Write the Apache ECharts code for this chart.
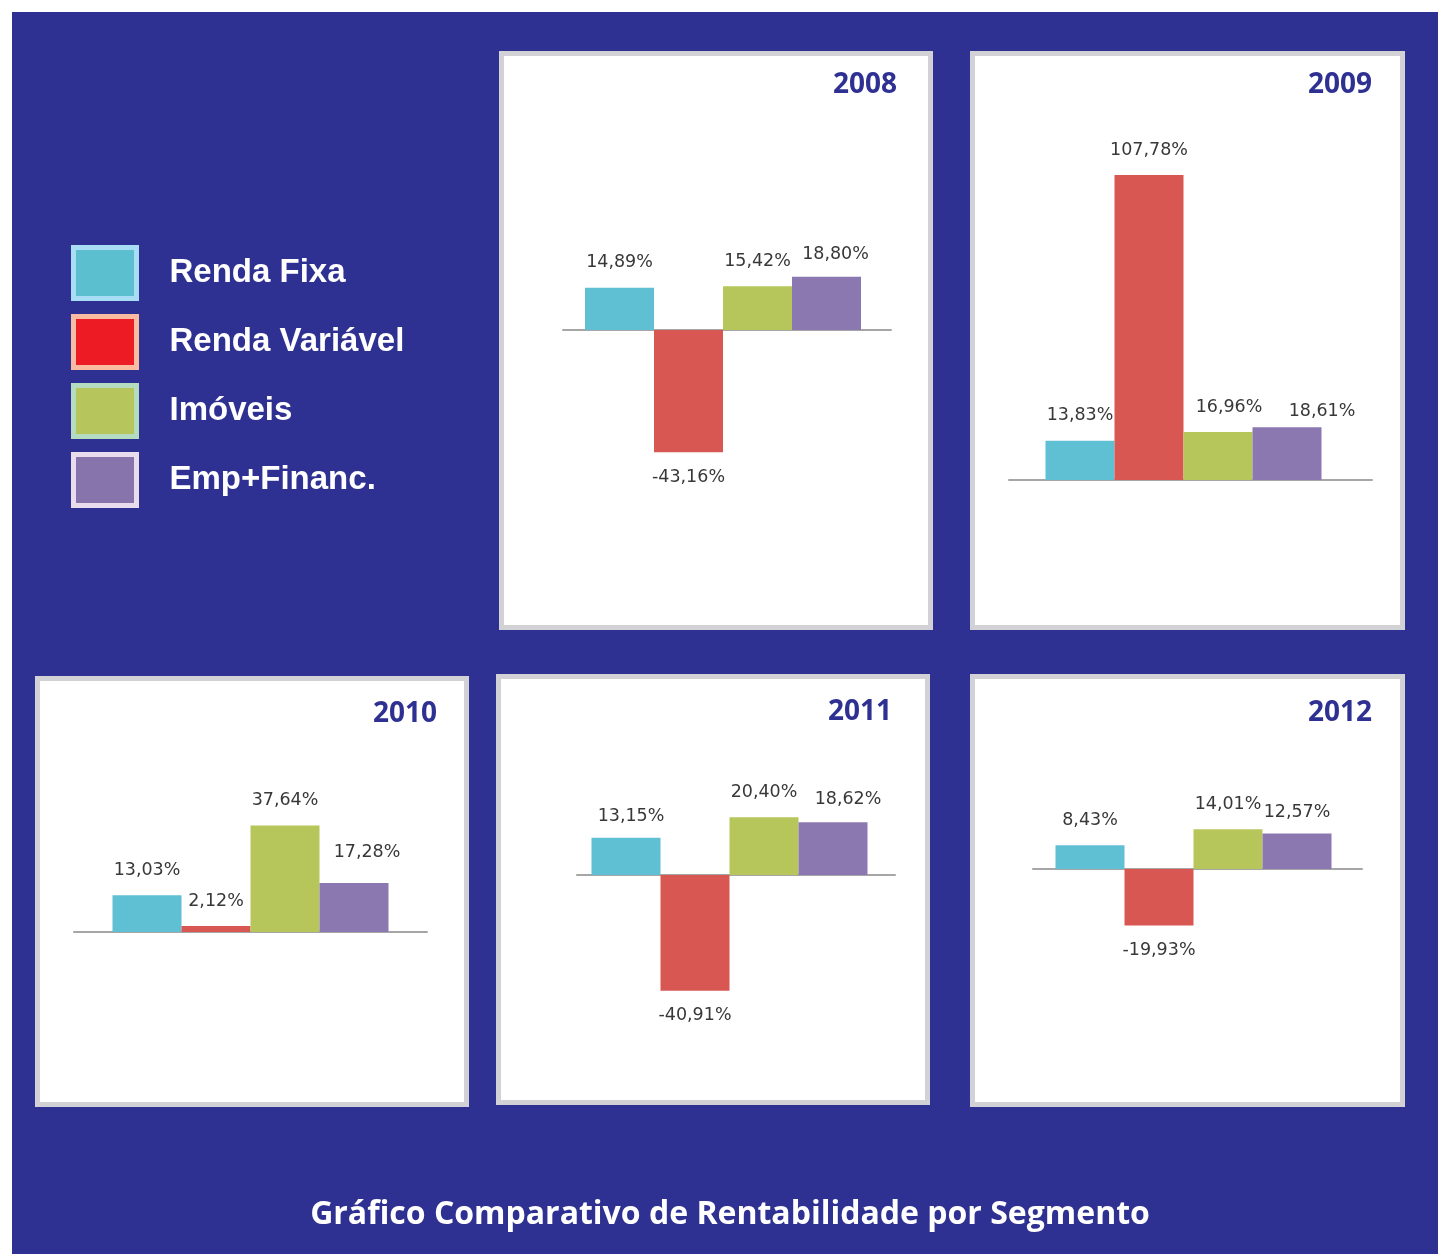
<!DOCTYPE html>
<html>
<head>
<meta charset="utf-8">
<script src="https://cdn.jsdelivr.net/npm/echarts@6/dist/echarts.min.js"></script>
<style>
  html, body { margin: 0; padding: 0; background: #fff; }
  #chart { width: 1438px; height: 1254px; }
</style>
</head>
<body>
<div id="chart"></div>
<script>
// data
const years = ['2008', '2009', '2010', '2011', '2012'];
const segments = ['Renda Fixa', 'Renda Variável', 'Imóveis', 'Emp+Financ.'];
const rendaFixa = [14.89, 13.83, 13.03, 13.15, 8.43];
const rendaVariavel = [-43.16, 107.78, 2.12, -40.91, -19.93];
const imoveis = [15.42, 16.96, 37.64, 20.40, 14.01];
const empFinanc = [18.80, 18.61, 17.28, 18.62, 12.57];
const segmentValues = [rendaFixa, rendaVariavel, imoveis, empFinanc];
const chartTitle = 'Gráfico Comparativo de Rentabilidade por Segmento';

// colours
const NAVY = '#2e3192';
const barColors = ['#5fbfd3', '#d95752', '#b7c65b', '#8c78b0'];
const legendFill = ['#5bbfd0', '#ed1c24', '#b7c55d', '#8774ad'];
const legendEdge = ['#a9ddf6', '#f9bca3', '#b3dcc1', '#e9dcec'];

// every panel uses the same vertical scale, only the zero line moves
const PX_PER_PCT = 2.83;
const Y_MIN = -50, Y_MAX = 110;

// panel frames, axis span, zero line and how far the bar group sits left of centre (page pixels)
const panels = [
  { box: [499, 51, 434, 579], axis: [563, 891], zero: 330, shift: 4, titleRight: 897, titleMid: 85 },
  { box: [970, 51, 435, 579], axis: [1009, 1372], zero: 480, shift: 7, titleRight: 1372, titleMid: 85 },
  { box: [35, 676, 434, 431], axis: [74, 427], zero: 932, shift: 0, titleRight: 437, titleMid: 714 },
  { box: [496, 674, 434, 431], axis: [577, 895], zero: 875, shift: 6.5, titleRight: 892, titleMid: 712 },
  { box: [970, 674, 435, 433], axis: [1033, 1362], zero: 869, shift: 4, titleRight: 1372, titleMid: 713 }
];

// small label nudges where the original labels sit off-centre  [panel-series]: [dx, dy]
const labelNudge = {
  '0-3': [9, 3], '1-2': [11, 0], '1-3': [35, 9], '2-3': [13, -6],
  '3-0': [5, 4], '3-3': [15, 2], '4-3': [0, 4]
};

const fmt = v => v.toFixed(2).replace('.', ',') + '%';

const chart = echarts.init(document.getElementById('chart'), null, { renderer: 'canvas' });

const grids = [], xAxes = [], yAxes = [], series = [];
const graphics = [{
  type: 'rect', shape: { x: 12, y: 12, width: 1426, height: 1242 },
  style: { fill: NAVY }, silent: true
}];
const titles = [];

panels.forEach((p, i) => {
  const [bx, by, bw, bh] = p.box;
  graphics.push({
    type: 'rect',
    shape: { x: bx + 2.5, y: by + 2.5, width: bw - 5, height: bh - 5 },
    style: { fill: '#fff', stroke: '#d2d2d6', lineWidth: 5 },
    silent: true
  });
  titles.push({
    text: years[i], left: p.titleRight, top: p.titleMid - 14, textAlign: 'right', padding: 0,
    textStyle: { color: NAVY, fontFamily: 'Open Sans', fontWeight: 'bold', fontSize: 28 }
  });
  grids.push({
    left: p.axis[0], width: p.axis[1] - p.axis[0],
    top: p.zero - Y_MAX * PX_PER_PCT, height: (Y_MAX - Y_MIN) * PX_PER_PCT
  });
  xAxes.push({
    type: 'category', gridIndex: i, data: [''],
    axisLine: { onZero: true, lineStyle: { color: '#a6a6a6', width: 2 } },
    axisTick: { show: false }, axisLabel: { show: false }, splitLine: { show: false }
  });
  yAxes.push({
    type: 'value', gridIndex: i, min: Y_MIN, max: Y_MAX, show: false, splitLine: { show: false }
  });
  segments.forEach((name, s) => {
    const v = segmentValues[s][i];
    const nudge = labelNudge[i + '-' + s];
    series.push({
      type: 'bar', name, xAxisIndex: i, yAxisIndex: i,
      barWidth: 69, barGap: '0%',
      itemStyle: { color: barColors[s] },
      label: {
        show: true, position: 'outside', distance: 16,
        formatter: d => fmt(d.value),
        fontFamily: 'DejaVu Sans', fontSize: 17.5, color: '#383838'
      },
      data: [nudge ? { value: v, label: { offset: nudge } } : v]
    });
  });
  // empty spacer on the right pushes the group off-centre like the original
  if (p.shift > 0) {
    series.push({
      type: 'bar', name: 'spacer', xAxisIndex: i, yAxisIndex: i,
      barWidth: p.shift * 2, barGap: '0%', silent: true, data: [null]
    });
  }
});

titles.push({
  text: chartTitle, left: 730, top: 1199, textAlign: 'center', padding: 0,
  textStyle: { color: '#fff', fontFamily: 'Open Sans', fontWeight: 'bold', fontSize: 32 }
});

chart.setOption({
  backgroundColor: '#fff',
  animation: false,
  graphic: graphics,
  title: titles,
  legend: {
    orient: 'vertical', left: 71, top: 245, padding: 0, itemGap: 13,
    itemWidth: 63, itemHeight: 51, icon: 'rect', selectedMode: false,
    textStyle: {
      color: '#fff', fontFamily: 'Liberation Sans', fontWeight: 'bold', fontSize: 33,
      padding: [12, 0, 0, 28]
    },
    data: segments.map((name, i) => ({
      name,
      itemStyle: { color: legendFill[i], borderColor: legendEdge[i], borderWidth: 5 }
    }))
  },
  grid: grids,
  xAxis: xAxes,
  yAxis: yAxes,
  series
});
</script>
</body>
</html>
